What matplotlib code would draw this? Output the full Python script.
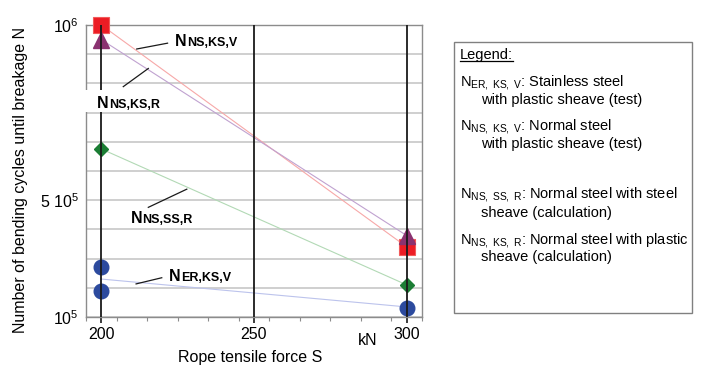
import numpy as np
import matplotlib
matplotlib.use('Agg')
import matplotlib.pyplot as plt
from matplotlib.patches import Rectangle
from matplotlib.lines import Line2D

plt.rcParams['font.family'] = 'Liberation Sans'
plt.rcParams['mathtext.fontset'] = 'custom'
plt.rcParams['mathtext.rm'] = 'Liberation Sans'
plt.rcParams['mathtext.it'] = 'Liberation Sans:italic'
plt.rcParams['mathtext.bf'] = 'Liberation Sans:bold'

# rope tensile force S in kN
force = [200, 300]
# bending cycles until breakage N
n_ns_ks_v = [1.0e6, 3.16e5]    # normal steel, plastic sheave, test (squares)
n_ns_ks_r = [9.55e5, 3.51e5]   # normal steel, plastic sheave, calculation (triangles)
n_ns_ss_r = [6.18e5, 1.99e5]   # normal steel, steel sheave, calculation (diamonds)
er_force = [200, 200, 300]
n_er_ks_v = [2.54e5, 1.80e5, 1.28e5]   # stainless steel, plastic sheave, test (circles)
n_er_mean = [2.17e5, 1.31e5]           # line through the stainless test results

x_major = [200, 250, 300]
x_minor = list(range(195, 306, 10))
y_grid = np.linspace(1e5, 1e6, 11)
y_labels = {0: r'$10^5$', 4: r'5 $10^5$', 10: r'$10^6$'}

legend_entries = [
    (r'N$_{\mathrm{ER,\ KS,\ V}}$: Stainless steel', 'with plastic sheave (test)'),
    (r'N$_{\mathrm{NS,\ KS,\ V}}$: Normal steel', 'with plastic sheave (test)'),
    (r'N$_{\mathrm{NS,\ SS,\ R}}$: Normal steel with steel', 'sheave (calculation)'),
    (r'N$_{\mathrm{NS,\ KS,\ R}}$: Normal steel with plastic', 'sheave (calculation)'),
]

fig = plt.figure(figsize=(7.2, 3.75), dpi=100)
ax = fig.add_axes([86 / 720, 58 / 375, 336 / 720, 292 / 375])

ax.set_xlim(195, 305)
ax.set_ylim(1e5, 1e6)

# grid and frame
ax.set_yticks(y_grid)
ax.set_yticklabels([y_labels.get(i, '') for i in range(len(y_grid))])
ax.grid(axis='y', color='#cfcfcf', lw=1.4, zorder=0)
ax.set_axisbelow(True)
for s in ax.spines.values():
    s.set_color('#8c8c8c')
    s.set_linewidth(1.0)
ax.tick_params(axis='y', length=0, pad=5, labelsize=11.5)
ax.set_xticks(x_major)
ax.set_xticks(x_minor, minor=True)
ax.tick_params(axis='x', which='major', length=4, width=1.2, color='#1a1a1a',
               pad=3, labelsize=11.5)
ax.tick_params(axis='x', which='minor', length=3, width=0.8, color='#8c8c8c')

for xv in x_major:
    ax.axvline(xv, color='#1a1a1a', lw=1.3, zorder=4)

# lines
ax.plot(force, n_ns_ks_v, color='#f7a8a8', lw=0.8, zorder=2)
ax.plot(force, n_ns_ks_r, color='#c0a2d0', lw=0.8, zorder=2)
ax.plot(force, n_ns_ss_r, color='#b2d9b5', lw=0.8, zorder=2)
ax.plot(force, n_er_mean, color='#bcc3ec', lw=0.8, zorder=2)

# markers
ax.plot(force, n_ns_ks_v, 's', ms=11, color='#ec1c24', mec='#f25a5a', mew=0.8,
        ls='none', zorder=3, clip_on=False)
ax.plot(force, n_ns_ks_r, '^', ms=11, color='#8a3270', mec='#8a3270',
        ls='none', zorder=3, clip_on=False)
ax.plot(force, n_ns_ss_r, 'D', ms=7.5, color='#1b7d34', mec='#1b7d34',
        ls='none', zorder=3, clip_on=False)
ax.plot(er_force, n_er_ks_v, 'o', ms=10.5, color='#2c4a9e', mec='#2c4a9e',
        ls='none', zorder=3, clip_on=False)

# white patch behind the N_NS,KS,R label
ax.add_patch(Rectangle((-0.01, 0.701), 0.26, 0.077, transform=ax.transAxes,
                       facecolor='white', edgecolor='none', zorder=5,
                       clip_on=False))


def curve_label(x, y, sub, leader):
    ax.text(x, y, 'N', fontsize=11.5, fontweight='bold', va='baseline',
            ha='left', zorder=6)
    ax.annotate(sub, xy=(x, y), xytext=(8.6, 0), textcoords='offset points',
                fontsize=9, fontweight='bold', va='baseline', ha='left',
                zorder=6)
    (x0, y0), (x1, y1) = leader
    ax.plot([x0, x1], [y0, y1], color='#1a1a1a', lw=0.9, zorder=6)


curve_label(224.1, 9.36e5, 'NS,KS,V', ((211.6, 9.26e5), (221.7, 9.44e5)))
curve_label(198.5, 7.43e5, 'NS,KS,R', ((207.2, 8.10e5), (215.4, 8.66e5)))
curve_label(209.6, 3.89e5, 'NS,SS,R', ((215.4, 4.38e5), (228.0, 4.94e5)))
curve_label(222.2, 2.11e5, 'ER,KS,V', ((211.4, 2.02e5), (219.8, 2.21e5)))

ax.set_xlabel('Rope tensile force S', fontsize=11.5, va='center')
ax.xaxis.set_label_coords(0.488, -0.137)
ax.set_ylabel('Number of bending cycles until breakage N', fontsize=11.5,
              va='center')
ax.yaxis.set_label_coords(-0.196, 0.47)
ax.text(0.839, -0.079, 'kN', transform=ax.transAxes, fontsize=11.5,
        ha='center', va='center')

# legend box on the right
fig.add_artist(Rectangle((454 / 720, 1 - 313 / 375), 238 / 720, 271 / 375,
                         transform=fig.transFigure, facecolor='white',
                         edgecolor='#808080', lw=1.0))
leg_title = fig.text(460 / 720, 1 - 55 / 375, 'Legend:', fontsize=10.5,
                     va='center', ha='left')
line_y = [(82, 100), (127, 144), (195, 213), (240, 257)]
for (first, second), (y1, y2) in zip(legend_entries, line_y):
    fig.text(460 / 720, 1 - y1 / 375, first, fontsize=10.5, va='center',
             ha='left')
    fig.text(481 / 720, 1 - y2 / 375, second, fontsize=10.5, va='center',
             ha='left')

# underline the legend title
fig.canvas.draw()
bb = leg_title.get_window_extent().transformed(fig.transFigure.inverted())
fig.add_artist(Line2D([bb.x0, bb.x1], [bb.y0 + 0.004, bb.y0 + 0.004],
                      transform=fig.transFigure, color='black', lw=0.9))

fig.savefig('out.png', dpi=100)
